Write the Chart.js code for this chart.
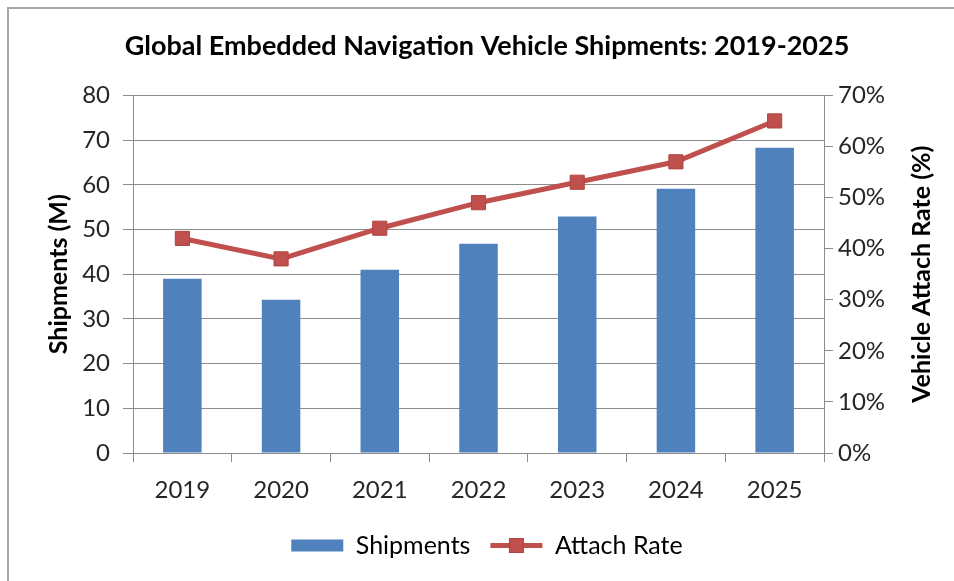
<!DOCTYPE html>
<html>
<head>
<meta charset="utf-8">
<script src="https://cdn.jsdelivr.net/npm/chart.js@4/dist/chart.umd.min.js"></script>
<style>
  html, body { margin: 0; padding: 0; background: #fff; overflow: hidden; }
  #frame { position: absolute; left: 7px; top: 7px; width: 1000px; height: 1000px; border-left: 2px solid #a6a6a6; border-top: 2px solid #a6a6a6; }
  #wrap { position: absolute; left: 0; top: 0; width: 954px; height: 581px; }
</style>
</head>
<body>
<div id="frame"></div>
<div id="wrap"><canvas id="c" width="954" height="581"></canvas></div>
<script>
const categories = ['2019', '2020', '2021', '2022', '2023', '2024', '2025'];
const shipments = [39, 34.3, 41, 46.8, 52.9, 59.1, 68.3];
const attachRate = [42, 38, 44, 49, 53, 57, 65];
const leftTicks = [0, 10, 20, 30, 40, 50, 60, 70, 80];
const rightTicks = [0, 10, 20, 30, 40, 50, 60, 70];
const leftTitle = 'Shipments (M)';
const rightTitle = 'Vehicle Attach Rate (%)';

const FONT = 'Lato, "Open Sans", sans-serif';
const BLUE = '#4F81BD';
const RED = '#C0504D';
const GRID = '#8c8c8c';
const TXT = '#262626';

function drawVertical(ctx, text, x, y) {
  ctx.save();
  ctx.translate(x, y);
  ctx.rotate(-Math.PI / 2);
  ctx.fillStyle = '#000';
  ctx.font = 'bold 25px ' + FONT;
  ctx.textAlign = 'center';
  ctx.textBaseline = 'middle';
  ctx.fillText(text, 0, 0);
  ctx.restore();
}

const extras = {
  id: 'extras',
  afterDraw(chart) {
    const ctx = chart.ctx;
    const lg = chart.legend;
    if (lg && lg.legendHitBoxes && lg.legendHitBoxes.length > 1) {
      const hb = lg.legendHitBoxes[1];
      const bw = chart.options.plugins.legend.labels.pointStyleWidth;
      const cx = hb.left + bw / 2;
      const cy = hb.top + hb.height / 2;
      const s = 14;
      ctx.save();
      ctx.fillStyle = RED;
      ctx.strokeStyle = '#b0443f';
      ctx.lineWidth = 1;
      ctx.fillRect(cx - s / 2, cy - s / 2, s, s);
      ctx.strokeRect(cx - s / 2, cy - s / 2, s, s);
      ctx.restore();
    }
    const area = chart.chartArea;
    const midY = (area.top + area.bottom) / 2;
    drawVertical(ctx, leftTitle, area.left - 74, midY);
    drawVertical(ctx, rightTitle, area.right + 98, midY);
  }
};

new Chart(document.getElementById('c'), {
  data: {
    labels: categories,
    datasets: [
      {
        type: 'line',
        label: 'Attach Rate',
        data: attachRate,
        yAxisID: 'y1',
        borderColor: RED,
        backgroundColor: RED,
        borderWidth: 5,
        pointStyle: 'rect',
        pointRadius: 10,
        pointHoverRadius: 10,
        pointBackgroundColor: RED,
        pointBorderColor: '#b0443f',
        pointBorderWidth: 1,
        tension: 0,
        order: 0
      },
      {
        type: 'bar',
        label: 'Shipments',
        data: shipments,
        yAxisID: 'y',
        backgroundColor: BLUE,
        borderWidth: 0,
        barPercentage: 0.39,
        categoryPercentage: 1,
        order: 1
      }
    ]
  },
  options: {
    responsive: false,
    animation: false,
    devicePixelRatio: 1,
    layout: { padding: { left: 42, right: 22, top: 10, bottom: 13 } },
    plugins: {
      title: {
        display: true,
        text: 'Global Embedded Navigation Vehicle Shipments: 2019-2025',
        color: '#000',
        font: { family: FONT, size: 27, weight: 'bold' },
        padding: { top: 20, bottom: 33 }
      },
      legend: {
        display: true,
        position: 'bottom',
        labels: {
          usePointStyle: true,
          pointStyleWidth: 52,
          boxHeight: 12,
          padding: 20,
          color: TXT,
          font: { family: FONT, size: 25 },
          generateLabels() {
            return [
              { text: 'Shipments', fillStyle: BLUE, strokeStyle: BLUE, lineWidth: 0, pointStyle: 'rect', datasetIndex: 1, hidden: false },
              { text: 'Attach Rate', fillStyle: RED, strokeStyle: RED, lineWidth: 5, pointStyle: 'line', datasetIndex: 0, hidden: false }
            ];
          }
        }
      },
      tooltip: { enabled: false }
    },
    scales: {
      x: {
        type: 'category',
        offset: true,
        grid: { display: true, offset: true, drawOnChartArea: false, drawTicks: true, tickLength: 9, color: GRID, lineWidth: 1 },
        border: { display: true, color: GRID, width: 1 },
        ticks: { color: TXT, font: { family: FONT, size: 24 }, padding: 14 },
        afterFit(scale) { scale.height = 60; }
      },
      y: {
        position: 'left',
        min: 0, max: 80,
        afterBuildTicks(scale) { scale.ticks = leftTicks.map(v => ({ value: v })); },
        grid: { display: true, drawOnChartArea: true, drawTicks: true, tickLength: 10, color: GRID, lineWidth: 1 },
        border: { display: true, color: GRID, width: 1 },
        ticks: { color: TXT, font: { family: FONT, size: 24 }, padding: 13 },
        title: { display: false },
        afterFit(scale) { scale.width = 91; }
      },
      y1: {
        position: 'right',
        min: 0, max: 70,
        afterBuildTicks(scale) { scale.ticks = rightTicks.map(v => ({ value: v })); },
        grid: { display: true, drawOnChartArea: false, drawTicks: true, tickLength: 9, color: GRID, lineWidth: 1 },
        border: { display: true, color: GRID, width: 1 },
        ticks: { color: TXT, font: { family: FONT, size: 24 }, padding: 5, callback: v => v + '%' },
        title: { display: false },
        afterFit(scale) { scale.width = 108; }
      }
    }
  },
  plugins: [extras]
});
</script>
</body>
</html>
